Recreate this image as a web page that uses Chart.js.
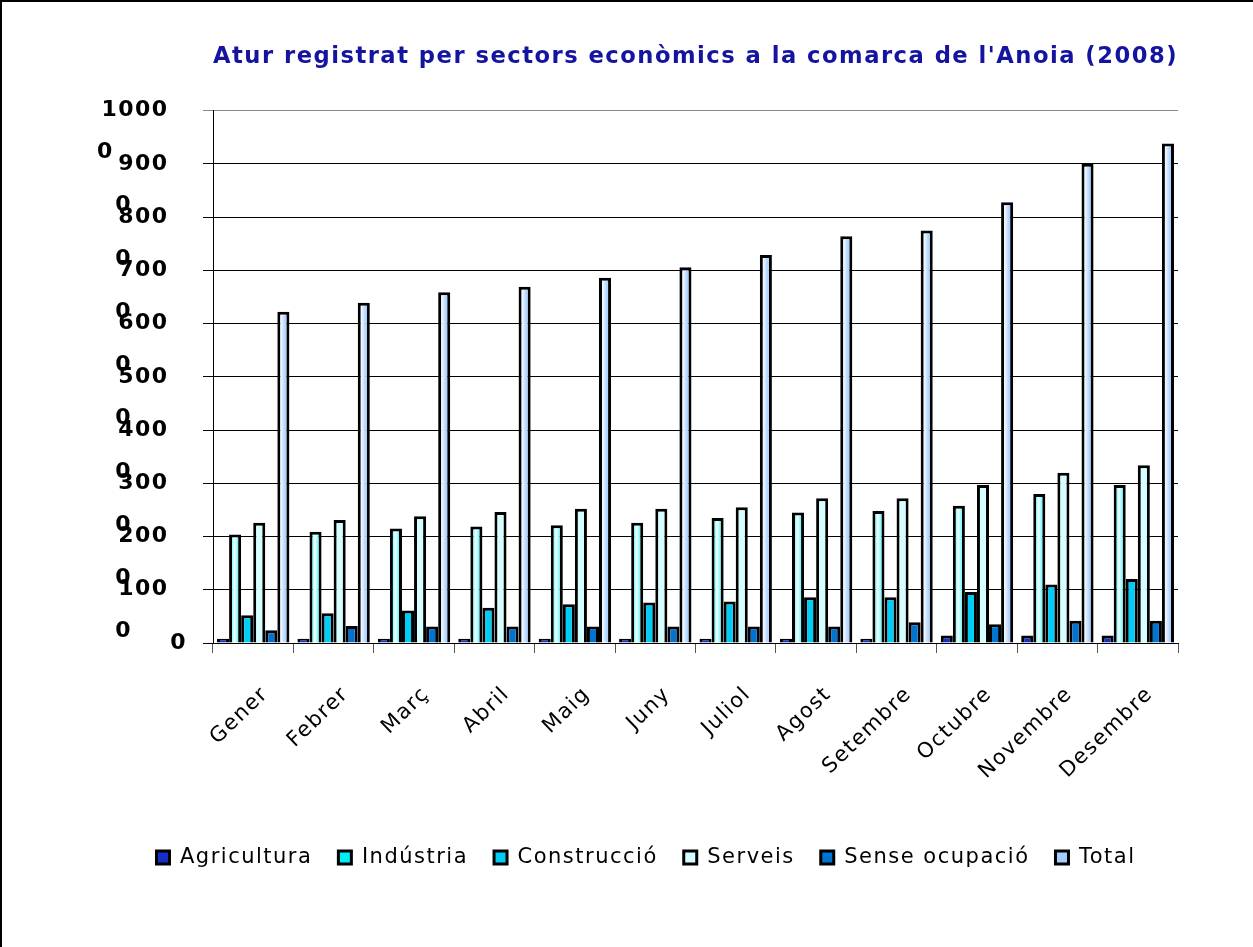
<!DOCTYPE html>
<html>
<head>
<meta charset="utf-8">
<script src="https://cdn.jsdelivr.net/npm/chart.js@4/dist/chart.umd.min.js"></script>
<style>
  body { margin: 0; background: #fff; }
  #wrap { position: relative; width: 1253px; height: 947px; }
  #frame { position: absolute; left: 0; top: 0; width: 1253px; height: 947px;
           border-left: 2px solid #000; border-top: 2px solid #000; box-sizing: border-box; pointer-events: none; }
</style>
</head>
<body>
<div id="wrap">
  <canvas id="aturChart"></canvas>
  <div id="frame"></div>
</div>
<script>
const months = ['Gener', 'Febrer', 'Març', 'Abril', 'Maig', 'Juny', 'Juliol', 'Agost', 'Setembre', 'Octubre', 'Novembre', 'Desembre'];

const agricultura = [80, 80, 80, 80, 80, 80, 80, 80, 80, 140, 140, 140];
const industria = [2040, 2090, 2150, 2190, 2210, 2260, 2350, 2450, 2480, 2580, 2800, 2970];
const construccio = [520, 560, 610, 660, 730, 760, 780, 860, 860, 960, 1100, 1200];
const serveis = [2260, 2310, 2380, 2460, 2520, 2520, 2550, 2720, 2720, 2970, 3200, 3340];
const senseOcupacio = [240, 320, 310, 310, 310, 310, 310, 310, 390, 350, 420, 420];
const total = [6220, 6390, 6590, 6690, 6860, 7060, 7290, 7640, 7750, 8280, 9000, 9380];

// y labels as they come out wrapped in the original: first line, second line
const yTickLabels = [['0'], ['100', '0'], ['200', '0'], ['300', '0'], ['400', '0'], ['500', '0'],
  ['600', '0'], ['700', '0'], ['800', '0'], ['900', '0'], ['1000', '0']];

const catPct = 0.9;

// horizontal gradient across each single bar
function barFill(stops, solid) {
  return function (ctx) {
    if (ctx.type !== 'data') return solid;
    const chart = ctx.chart;
    const x = chart.scales.x;
    if (!x || !chart.chartArea) return solid;
    const group = (x.width / months.length) * catPct;
    const w = group / 6;
    const left = x.getPixelForValue(ctx.dataIndex) - group / 2 + ctx.datasetIndex * w;
    const g = chart.ctx.createLinearGradient(left, 0, left + w, 0);
    stops.forEach(s => g.addColorStop(s[0], s[1]));
    return g;
  };
}

const spacing = {
  id: 'spacing',
  beforeUpdate(c) { c.ctx.letterSpacing = '1.5px'; },
  beforeDraw(c) { c.ctx.letterSpacing = '1.5px'; }
};

const ctx = document.getElementById('aturChart').getContext('2d');

const aturChart = new Chart(ctx, {
  type: 'bar',
  data: {
    labels: months,
    datasets: [
      { label: 'Agricultura', data: agricultura, backgroundColor: '#1530c8' },
      { label: 'Indústria', data: industria,
        backgroundColor: barFill([[0, '#00f0f8'], [0.45, '#f4ffff'], [1, '#00eef8']], '#ccffff') },
      { label: 'Construcció', data: construccio, backgroundColor: '#00ccf5' },
      { label: 'Serveis', data: serveis, backgroundColor: '#d4feff' },
      { label: 'Sense ocupació', data: senseOcupacio, backgroundColor: '#0074d0' },
      { label: 'Total', data: total,
        backgroundColor: barFill([[0, '#b4d8ff'], [0.3, '#f2f8ff'], [0.65, '#b0d4ff'], [1, '#a4ceff']], '#cce4ff') }
    ]
  },
  options: {
    responsive: true,
    maintainAspectRatio: false,
    animation: false,
    devicePixelRatio: 1,
    layout: { padding: { left: 79, right: 40, top: 0, bottom: 69 } },
    datasets: {
      bar: { categoryPercentage: catPct, barPercentage: 1, borderColor: '#000', borderWidth: 3 }
    },
    plugins: {
      title: {
        display: true,
        fullSize: false,
        text: "Atur registrat per sectors econòmics a la comarca de l'Anoia (2008)",
        align: 'end',
        color: '#1414a0',
        font: { family: 'DejaVu Sans', size: 23, weight: 'bold' },
        padding: { top: 43, bottom: 40 }
      },
      legend: {
        position: 'bottom',
        labels: {
          color: '#000',
          font: { family: 'DejaVu Sans', size: 21 },
          boxWidth: 13,
          boxHeight: 13,
          padding: 26
        }
      },
      tooltip: { enabled: false }
    },
    scales: {
      x: {
        afterFit(scale) { scale.height = 178; },
        grid: { offset: true, drawOnChartArea: false, drawTicks: true, tickLength: 10, color: '#555' },
        border: { display: true, color: '#000' },
        ticks: {
          color: '#000',
          font: { family: 'DejaVu Sans', size: 21 },
          minRotation: 44,
          maxRotation: 44,
          labelOffset: 12,
          padding: 29
        }
      },
      y: {
        min: 0,
        max: 10000,
        afterFit(scale) { scale.width = 134; },
        grid: {
          color: c => (c.tick && c.tick.value === 10000 ? '#888' : '#000'),
          tickLength: 10
        },
        border: { display: true, color: '#000' },
        ticks: {
          stepSize: 1000,
          autoSkip: false,
          padding: 16,
          color: '#000',
          font: { family: 'DejaVu Sans', size: 22, weight: 'bold', lineHeight: 1.9 },
          callback(value) {
            const parts = yTickLabels[Math.round(value / 1000)];
            if (parts.length === 1) return parts[0];
            return ['', parts[0] + '  ', parts[1] + ' '.repeat(2 * parts[0].length)];
          }
        }
      },
      // empty right-hand box, only keeps the plot clear of the right edge
      yRight: {
        position: 'right',
        afterFit(scale) { scale.width = 35; },
        grid: { display: false },
        border: { display: false },
        ticks: { display: false }
      }
    }
  },
  plugins: [spacing]
});
</script>
</body>
</html>
